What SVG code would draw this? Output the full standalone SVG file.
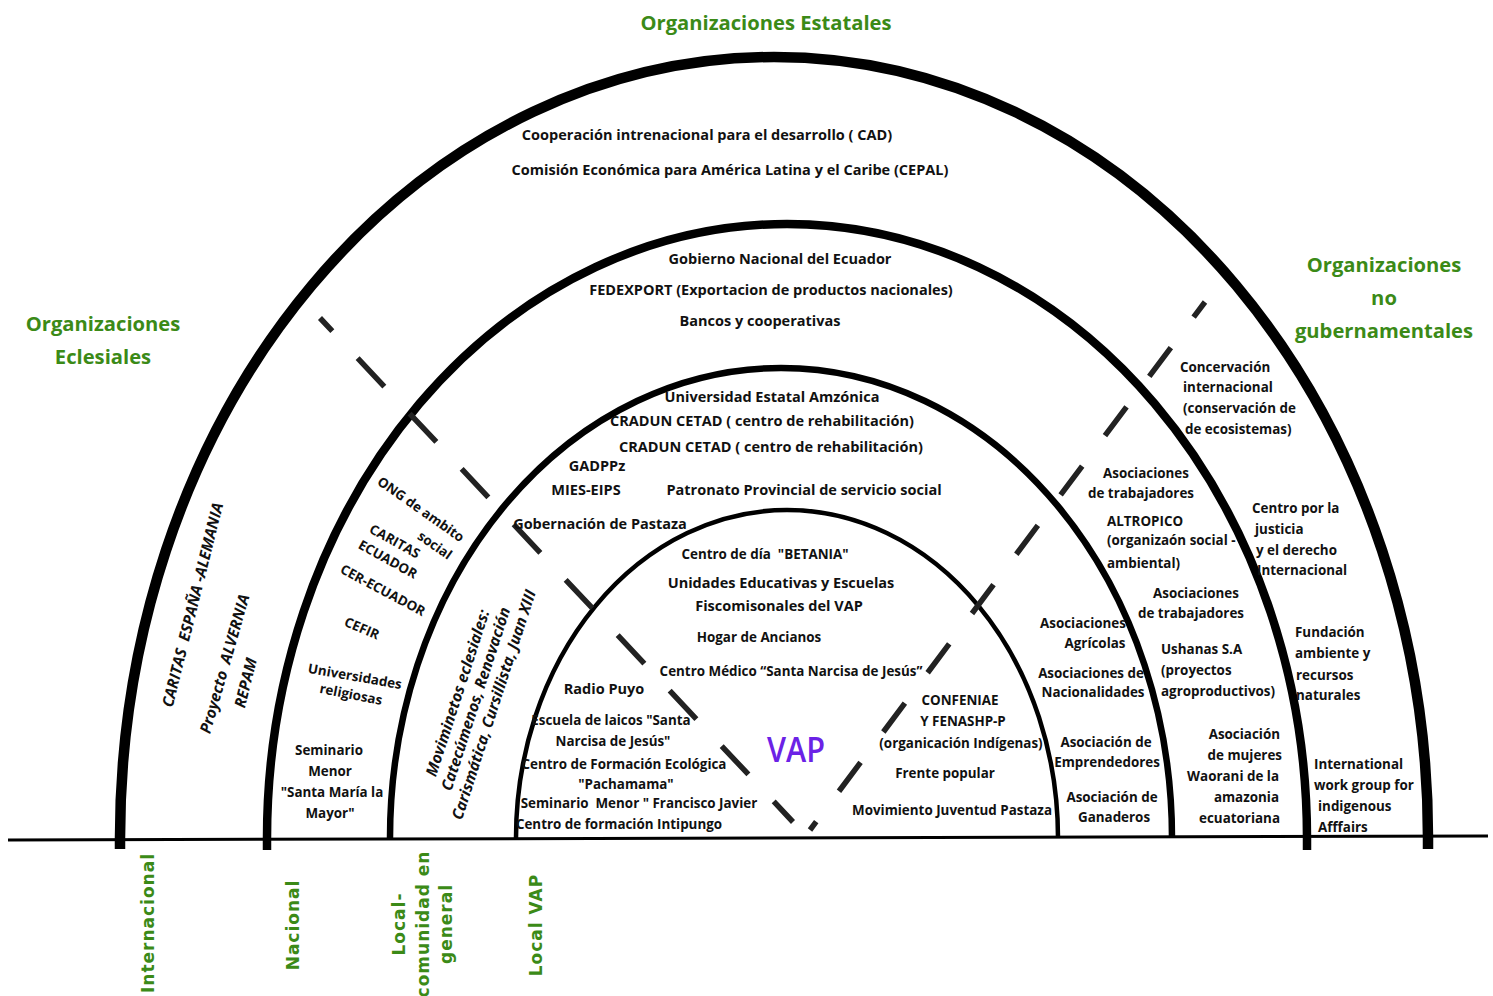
<svg xmlns="http://www.w3.org/2000/svg" width="1493" height="996" viewBox="0 0 1493 996">
<style>
text{white-space:pre}
.m{font-family:"Open Sans","Noto Sans",sans-serif;font-weight:700;font-size:14.5px;fill:#111;text-anchor:middle}
.s{font-family:"Open Sans","Noto Sans",sans-serif;font-weight:700;font-size:13.4px;fill:#111;text-anchor:middle}
.l{text-anchor:start}
.e{text-anchor:end}
.g{font-family:"Open Sans","Noto Sans",sans-serif;font-weight:700;font-size:20.2px;fill:#3b8a17;text-anchor:middle}
.i{font-family:"Open Sans","Noto Sans",sans-serif;font-weight:700;font-style:italic;font-size:15.5px;fill:#111;text-anchor:middle}
.b{font-family:"DejaVu Sans",sans-serif;font-weight:700;font-size:17px;letter-spacing:1px;fill:#3b8a17;text-anchor:middle}
.vap{font-family:"Open Sans","Noto Sans",sans-serif;font-weight:600;font-size:34px;fill:#6b22e6;text-anchor:middle}
.ring{fill:none;stroke:#000}
.dash{fill:none;stroke:#222;stroke-width:5.5}
</style>
<rect width="1493" height="996" fill="#fff"/>
<g id="rings">
<path class="ring" d="M120,849 L120,838 A654,781 0 0 1 1428,838 L1428,849" stroke-width="10.5"/>
<path class="ring" d="M267,850 L267,838 A520,614 0 0 1 1307,838 L1307,850" stroke-width="8.5"/>
<path class="ring" d="M390,838 A391,470 0 0 1 1172,838" stroke-width="6.5"/>
<path class="ring" d="M516,838 A271,328 0 0 1 1058,838" stroke-width="4.5"/>
<path d="M8,840 L1488,836" stroke="#000" stroke-width="3"/>
</g>
<g id="connectors">
<path class="dash" d="M320,318 L793,822" stroke-dasharray="39 37" stroke-dashoffset="21"/>
<path class="dash" d="M1205,302 L810,830" stroke-dasharray="36 38" stroke-dashoffset="17"/>
</g>
<g id="titles">
<text class="g" x="766" y="30">Organizaciones Estatales</text>
<text class="g" x="103" y="331">Organizaciones</text>
<text class="g" x="103" y="364">Eclesiales</text>
<text class="g" x="1384" y="272">Organizaciones</text>
<text class="g" x="1384" y="305">no</text>
<text class="g" x="1384" y="338">gubernamentales</text>
</g>
<g id="internacional-estatal">
<text class="m" x="707" y="140">Cooperación intrenacional para el desarrollo ( CAD)</text>
<text class="m" x="730" y="175">Comisión Económica para América Latina y el Caribe (CEPAL)</text>
</g>
<g id="nacional-estatal">
<text class="m" x="780" y="264">Gobierno Nacional del Ecuador</text>
<text class="m" x="771" y="295">FEDEXPORT (Exportacion de productos nacionales)</text>
<text class="m" x="760" y="326">Bancos y cooperativas</text>
</g>
<g id="local-estatal">
<text class="m" x="772" y="402">Universidad Estatal Amzónica</text>
<text class="m" x="762" y="426">CRADUN CETAD ( centro de rehabilitación)</text>
<text class="m" x="771" y="452">CRADUN CETAD ( centro de rehabilitación)</text>
<text class="m" x="597" y="471">GADPPz</text>
<text class="m" x="586" y="495">MIES-EIPS</text>
<text class="m" x="804" y="495">Patronato Provincial de servicio social</text>
<text class="m" x="600" y="529">Gobernación de Pastaza</text>
</g>
<g id="vap-estatal">
<text class="s" x="765" y="559">Centro de día  "BETANIA"</text>
<text class="m" x="781" y="588">Unidades Educativas y Escuelas</text>
<text class="m" x="779" y="611">Fiscomisonales del VAP</text>
<text class="s" x="759" y="642">Hogar de Ancianos</text>
<text class="s" x="791" y="676">Centro Médico “Santa Narcisa de Jesús”</text>
</g>
<g id="vap-eclesial">
<text class="m" x="604" y="694">Radio Puyo</text>
<text class="s" x="611" y="725">Escuela de laicos "Santa</text>
<text class="s" x="613" y="746">Narcisa de Jesús"</text>
<text class="s" x="624" y="769">Centro de Formación Ecológica</text>
<text class="s" x="626" y="789">"Pachamama"</text>
<text class="s" x="639" y="808">Seminario  Menor " Francisco Javier</text>
<text class="s" x="619" y="829">Centro de formación Intipungo</text>
</g>
<g id="vap">
<text class="vap" x="796" y="762" textLength="58" lengthAdjust="spacingAndGlyphs">VAP</text>
</g>
<g id="vap-ong">
<text class="s" x="960" y="705">CONFENIAE</text>
<text class="s" x="963" y="726">Y FENASHP-P</text>
<text class="s" x="961" y="748">(organicación Indígenas)</text>
<text class="s" x="945" y="778">Frente popular</text>
<text class="s" x="952" y="815">Movimiento Juventud Pastaza</text>
</g>
<g id="local-ong">
<text class="s" x="1083" y="628">Asociaciones</text>
<text class="s" x="1095" y="648">Agrícolas</text>
<text class="s" x="1091" y="678">Asociaciones de</text>
<text class="s" x="1093" y="697">Nacionalidades</text>
<text class="s" x="1106" y="747">Asociación de</text>
<text class="s" x="1107" y="767">Emprendedores</text>
<text class="s" x="1112" y="802">Asociación de</text>
<text class="s" x="1114" y="822">Ganaderos</text>
</g>
<g id="local-eclesial">
<g transform="translate(476,699) rotate(-72)">
<text class="i" x="0" y="-14">Moviminetos eclesiales:</text>
<text class="i" x="0" y="5">Catecúmenos, Renovación</text>
<text class="i" x="0" y="24">Carismática, Cursillista, Juan XIII</text>
</g>
</g>
<g id="nacional-eclesial">
<text class="s" transform="translate(421,509) rotate(35)" y="5">ONG de ambito</text>
<text class="s" transform="translate(435,545) rotate(35)" y="5">social</text>
<text class="s" transform="translate(395,541) rotate(29)" y="5">CARITAS</text>
<text class="s" transform="translate(388,559) rotate(29)" y="5">ECUADOR</text>
<text class="s" transform="translate(383,590) rotate(28)" y="5">CER-ECUADOR</text>
<text class="s" transform="translate(362,628) rotate(23)" y="5">CEFIR</text>
<text class="s" transform="translate(355,676) rotate(10)" y="5">Universidades</text>
<text class="s" transform="translate(351,694) rotate(11)" y="5">religiosas</text>
<text class="s" x="329" y="755">Seminario</text>
<text class="s" x="330" y="776">Menor</text>
<text class="s" x="332" y="797">"Santa María la</text>
<text class="s" x="330" y="818">Mayor"</text>
</g>
<g id="internacional-eclesial">
<text class="i" transform="translate(193,605) rotate(-76)" y="5">CARITAS  ESPAÑA -ALEMANIA</text>
<text class="i" transform="translate(225,664) rotate(-74)" y="5">Proyecto  ALVERNIA</text>
<text class="i" transform="translate(246,683) rotate(-76)" y="5">REPAM</text>
</g>
<g id="nacional-ong">
<text class="s" x="1146" y="478">Asociaciones</text>
<text class="s" x="1141" y="498">de trabajadores</text>
<text class="s l" x="1107" y="526">ALTROPICO</text>
<text class="s l" x="1107" y="545">(organizaón social -</text>
<text class="s l" x="1107" y="568">ambiental)</text>
<text class="s" x="1196" y="598">Asociaciones</text>
<text class="s" x="1191" y="618">de trabajadores</text>
<text class="s l" x="1161" y="654">Ushanas S.A</text>
<text class="s l" x="1161" y="675">(proyectos</text>
<text class="s l" x="1161" y="696">agroproductivos)</text>
<text class="s e" x="1280" y="739">Asociación</text>
<text class="s e" x="1282" y="760">de mujeres</text>
<text class="s e" x="1279" y="781">Waorani de la</text>
<text class="s e" x="1279" y="802">amazonia</text>
<text class="s e" x="1280" y="823">ecuatoriana</text>
</g>
<g id="internacional-ong">
<text class="s l" x="1180" y="372">Concervación</text>
<text class="s l" x="1183" y="392">internacional</text>
<text class="s l" x="1183" y="413">(conservación de</text>
<text class="s l" x="1185" y="434">de ecosistemas)</text>
<text class="s l" x="1252" y="513">Centro por la</text>
<text class="s l" x="1255" y="534">justicia</text>
<text class="s l" x="1256" y="555">y el derecho</text>
<text class="s l" x="1257" y="575">Internacional</text>
<text class="s l" x="1295" y="637">Fundación</text>
<text class="s l" x="1295" y="658">ambiente y</text>
<text class="s l" x="1296" y="680">recursos</text>
<text class="s l" x="1296" y="700">naturales</text>
<text class="s l" x="1314" y="769">International</text>
<text class="s l" x="1314" y="790">work group for</text>
<text class="s l" x="1318" y="811">indigenous</text>
<text class="s l" x="1318" y="832">Afffairs</text>
</g>
<g id="levels">
<text class="b" transform="translate(148,923) rotate(-90)" y="6">Internacional</text>
<text class="b" transform="translate(293,925) rotate(-90)" y="6">Nacional</text>
<g transform="translate(423,924) rotate(-90)">
<text class="b" x="0" y="-18">Local-</text>
<text class="b" x="0" y="6">comunidad en</text>
<text class="b" x="0" y="29">general</text>
</g>
<text class="b" transform="translate(536,925) rotate(-90)" y="6">Local VAP</text>
</g>
</svg>
